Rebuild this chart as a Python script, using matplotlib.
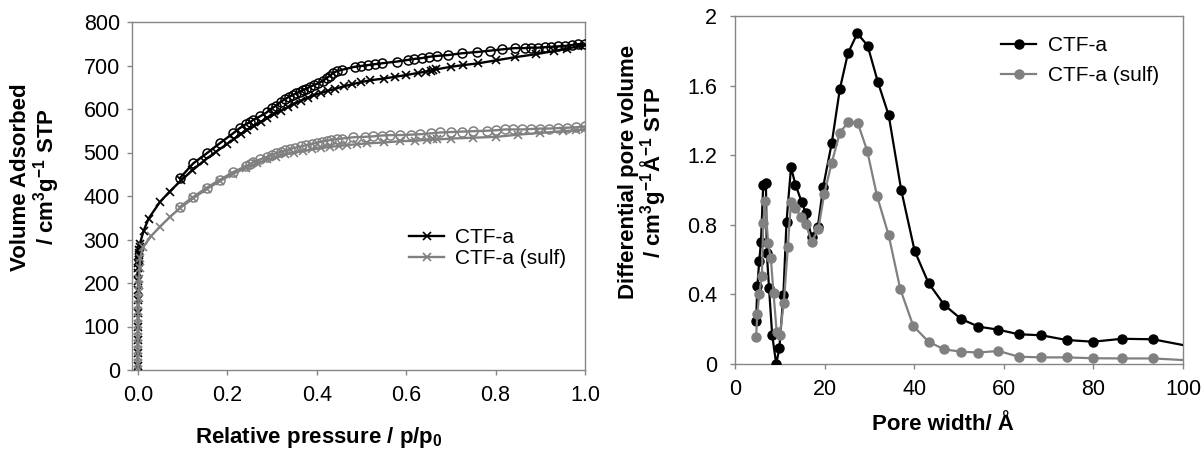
import numpy as np
import matplotlib
matplotlib.use("Agg")
import matplotlib.pyplot as plt
from matplotlib.lines import Line2D
from matplotlib.ticker import FuncFormatter

plt.rcParams['font.family'] = ['Liberation Sans', 'DejaVu Sans']
plt.rcParams['mathtext.fontset'] = 'custom'
plt.rcParams['mathtext.rm'] = 'Liberation Sans'
plt.rcParams['mathtext.bf'] = 'Liberation Sans:bold'
plt.rcParams['mathtext.it'] = 'Liberation Sans:italic'

# isotermas (p/p0, cm3/g STP)
ctf_ads_p = [0.0, 0.0001, 0.0002, 0.0003, 0.0004, 0.0005, 0.0006, 0.0008, 0.001, 0.0012,
             0.0015, 0.0018, 0.002, 0.0025, 0.003, 0.0035, 0.004, 0.0045,
             0.013, 0.024, 0.050, 0.071, 0.097, 0.122, 0.148, 0.174, 0.20, 0.215,
             0.23, 0.245, 0.26, 0.275, 0.29, 0.305, 0.32, 0.335, 0.35, 0.365,
             0.38, 0.395, 0.41, 0.425, 0.44, 0.46, 0.48, 0.50, 0.52, 0.55,
             0.575, 0.60, 0.627, 0.645, 0.655, 0.661, 0.667, 0.70, 0.728, 0.761,
             0.802, 0.843, 0.89, 0.93, 0.96, 0.985, 1.0]
ctf_ads_v = [10, 40, 70, 100, 130, 160, 185, 205, 222, 235,
             245, 252, 258, 264, 270, 276, 282, 290,
             320, 348, 387, 410, 436, 459, 481, 501, 520, 531,
             542, 552, 561, 570, 579, 588, 596, 604, 612, 619,
             626, 632, 637, 642, 646, 652, 657, 662, 666, 670,
             674, 678, 683, 686, 688, 689, 691, 697, 701, 705,
             712, 719, 726, 733, 739, 744, 747]
ctf_des_p = [1.0, 0.985, 0.97, 0.955, 0.94, 0.925, 0.91, 0.895, 0.88, 0.865,
             0.843, 0.814, 0.787, 0.758, 0.724, 0.694, 0.668, 0.651, 0.635, 0.618,
             0.605, 0.579, 0.545, 0.53, 0.515, 0.5, 0.485, 0.456, 0.445, 0.437,
             0.43, 0.422, 0.413, 0.403, 0.394, 0.385, 0.377, 0.37, 0.362, 0.354,
             0.346, 0.338, 0.33, 0.32, 0.31, 0.3, 0.288, 0.273, 0.258, 0.25,
             0.243, 0.228, 0.213, 0.183, 0.154, 0.124, 0.094]
ctf_des_v = [750, 749, 747, 745, 744, 743, 742, 741, 741, 740,
             740, 737, 734, 731, 728, 724, 722, 720, 717, 715,
             713, 709, 705, 703, 701, 699, 697, 690, 687, 683,
             677, 671, 664, 659, 655, 651, 647, 644, 640, 636,
             632, 628, 623, 617, 608, 602, 592, 583, 575, 569,
             566, 556, 544, 521, 498, 475, 441]

sulf_ads_p = [0.0, 0.0001, 0.0002, 0.0003, 0.0004, 0.0005, 0.0006, 0.0008, 0.001, 0.0012,
              0.0015, 0.0018, 0.002, 0.0025, 0.003, 0.004, 0.005, 0.012, 0.03,
              0.049, 0.072, 0.094, 0.124, 0.154, 0.183, 0.213, 0.243, 0.266, 0.29,
              0.31, 0.33, 0.35, 0.37, 0.39, 0.41, 0.43, 0.45, 0.467, 0.49,
              0.512, 0.55, 0.586, 0.62, 0.646, 0.66, 0.67, 0.70, 0.75, 0.802,
              0.85, 0.9, 0.95, 0.98, 1.0]
sulf_ads_v = [0, 15, 30, 45, 60, 75, 90, 105, 120, 135,
              150, 165, 180, 195, 210, 235, 258, 283, 308,
              329, 352, 372, 395, 416, 434, 451, 465, 475, 484,
              490, 496, 500, 503, 507, 510, 513, 515, 517, 519,
              521, 523, 526, 527, 529, 530, 530, 532, 534, 536,
              541, 545, 549, 551, 553]
sulf_des_p = [1.0, 0.98, 0.96, 0.94, 0.92, 0.9, 0.88, 0.86, 0.84, 0.821,
              0.8, 0.78, 0.75, 0.724, 0.7, 0.676, 0.655, 0.631, 0.61, 0.586,
              0.565, 0.545, 0.525, 0.508, 0.482, 0.456, 0.445, 0.433, 0.422, 0.411,
              0.4, 0.39, 0.377, 0.365, 0.352, 0.34, 0.33, 0.32, 0.31, 0.3,
              0.288, 0.273, 0.258, 0.25, 0.243, 0.213, 0.183, 0.154, 0.124, 0.094]
sulf_des_v = [560, 558, 557, 556, 555, 555, 554, 553, 553, 553,
              551, 550, 549, 548, 547, 546, 544, 542, 541, 540,
              540, 539, 537, 536, 535, 532, 531, 529, 527, 525,
              522, 520, 517, 514, 511, 508, 505, 502, 499, 495,
              490, 484, 478, 473, 469, 455, 437, 419, 398, 375]

# distribucion de poros (A, cm3/g/A)
ctf_w = [4.7, 5.0, 5.4, 5.8, 6.3, 6.9, 7.1, 7.6, 8.3, 9.2,
         9.9, 10.8, 11.5, 12.5, 13.5, 14.9, 15.8, 17.1, 18.5, 19.7,
         21.6, 23.4, 25.2, 27.3, 29.6, 31.9, 34.3, 37.1, 40.1, 43.2,
         46.7, 50.4, 54.3, 58.8, 63.3, 68.4, 74.0, 79.9, 86.4, 93.3, 102]
ctf_dv = [0.25, 0.45, 0.59, 0.70, 1.03, 1.04, 0.64, 0.435, 0.167, 0.0,
          0.09, 0.397, 0.818, 1.13, 1.03, 0.93, 0.866, 0.73, 0.79, 1.02,
          1.27, 1.58, 1.785, 1.90, 1.83, 1.62, 1.43, 1.0, 0.65, 0.465,
          0.34, 0.26, 0.215, 0.197, 0.171, 0.165, 0.138, 0.128, 0.145, 0.142, 0.099]
sulf_w = [4.7, 5.0, 5.4, 6.0, 6.3, 6.7, 7.4, 8.0, 8.6, 9.3,
          10.0, 10.9, 11.8, 12.5, 13.5, 14.7, 15.8, 17.1, 18.6, 19.9,
          21.6, 23.4, 25.3, 27.4, 29.5, 31.7, 34.3, 36.9, 39.8, 43.2,
          46.7, 50.4, 54.3, 58.8, 63.3, 68.4, 74.0, 79.9, 86.4, 93.3, 102]
sulf_dv = [0.157, 0.29, 0.40, 0.506, 0.81, 0.937, 0.694, 0.607, 0.406, 0.186,
           0.167, 0.352, 0.674, 0.933, 0.895, 0.847, 0.805, 0.703, 0.774, 0.977,
           1.157, 1.33, 1.39, 1.385, 1.226, 0.966, 0.74, 0.43, 0.218, 0.128,
           0.084, 0.071, 0.066, 0.075, 0.042, 0.038, 0.038, 0.033, 0.032, 0.032, 0.02]

BLACK = '#000000'
GRAY = '#808080'
AXCOL = '#868686'
FS = 15.5

fig = plt.figure(figsize=(12.04, 4.5), dpi=100)
W, H = 1204.0, 450.0


def px_axes(l, t, r, b):
    return fig.add_axes([l / W, 1 - b / H, (r - l) / W, (b - t) / H])


def estilo(ax):
    for s in ax.spines.values():
        s.set_color(AXCOL)
        s.set_linewidth(1.0)
    ax.tick_params(axis='both', which='both', direction='out', length=3.8, width=1.0,
                   color=AXCOL, labelsize=FS, labelcolor='black', top=False, right=False)
    ax.tick_params(axis='x', pad=7)
    ax.tick_params(axis='y', pad=5)


# --- izquierda: isotermas
ax1 = px_axes(132, 22, 585, 370)
ax1.plot(ctf_ads_p, ctf_ads_v, color=BLACK, lw=1.7, marker='x', ms=6, mew=1.2, zorder=3)
ax1.plot(ctf_des_p, ctf_des_v, color=BLACK, lw=1.7, marker='o', ms=6.5, mew=1.1,
         mfc='none', zorder=3)
ax1.plot(sulf_ads_p, sulf_ads_v, color=GRAY, lw=1.7, marker='x', ms=6, mew=1.2, zorder=4)
ax1.plot(sulf_des_p, sulf_des_v, color=GRAY, lw=1.7, marker='o', ms=6.5, mew=1.1,
         mfc='none', zorder=4)
ax1.set_xlim(-0.013, 1.0)
ax1.set_ylim(0, 800)
ax1.set_xticks(np.arange(0, 1.01, 0.2))
ax1.set_yticks(np.arange(0, 801, 100))
ax1.xaxis.set_major_formatter(FuncFormatter(lambda v, _: f"{v:.1f}"))
ax1.yaxis.set_major_formatter(FuncFormatter(lambda v, _: f"{v:g}"))
estilo(ax1)

h1 = [Line2D([], [], color=BLACK, lw=1.7, marker='x', ms=6, mew=1.2),
      Line2D([], [], color=GRAY, lw=1.7, marker='x', ms=6, mew=1.2)]
fig.legend(h1, ['CTF-a', 'CTF-a (sulf)'], loc='upper left',
           bbox_to_anchor=(409 / W, 1 - 228 / H), frameon=False, fontsize=15,
           handlelength=1.7, handletextpad=0.5, labelspacing=0.1,
           borderpad=0, borderaxespad=0, numpoints=1)

fig.text(36 / W, 1 - 177 / H, 'Volume Adsorbed\n/ cm$^\\mathbf{3}$g$^\\mathbf{-1}$ STP',
         rotation=90, ha='center', va='center', multialignment='center',
         fontsize=16, fontweight='bold', linespacing=1.0)
fig.text(319 / W, 1 - 437 / H, 'Relative pressure / p/p$_\\mathbf{0}$',
         ha='center', va='center', fontsize=16, fontweight='bold')

# --- derecha: distribucion de tamano de poro
ax2 = px_axes(735, 16, 1183, 364)
ax2.plot(ctf_w, ctf_dv, color=BLACK, lw=1.6, marker='o', ms=6.5, zorder=3)
ax2.plot(sulf_w, sulf_dv, color=GRAY, lw=1.6, marker='o', ms=6.5, zorder=4)
ax2.set_xlim(0, 100)
ax2.set_ylim(0, 2)
ax2.set_xticks(np.arange(0, 101, 20))
ax2.set_yticks(np.arange(0, 2.01, 0.4))
ax2.xaxis.set_major_formatter(FuncFormatter(lambda v, _: f"{v:g}"))
ax2.yaxis.set_major_formatter(FuncFormatter(lambda v, _: f"{v:g}"))
estilo(ax2)
ax2.tick_params(axis='y', pad=9)

h2 = [Line2D([], [], color=BLACK, lw=1.6, marker='o', ms=6.5),
      Line2D([], [], color=GRAY, lw=1.6, marker='o', ms=6.5)]
fig.legend(h2, ['CTF-a', 'CTF-a (sulf)'], loc='upper left',
           bbox_to_anchor=(1001 / W, 1 - 36 / H), frameon=False, fontsize=15,
           handlelength=1.7, handletextpad=0.55, labelspacing=0.55,
           borderpad=0, borderaxespad=0, numpoints=1)

fig.text(643 / W, 1 - 172 / H,
         'Differential pore volume\n/ cm$^\\mathbf{3}$g$^\\mathbf{-1}$Å$^\\mathbf{-1}$ STP',
         rotation=90, ha='center', va='center', multialignment='center',
         fontsize=16, fontweight='bold', linespacing=1.0)
fig.text(943 / W, 1 - 425 / H, 'Pore width/ Å', ha='center', va='center',
         fontsize=16, fontweight='bold')

fig.savefig('out.png', dpi=100)
